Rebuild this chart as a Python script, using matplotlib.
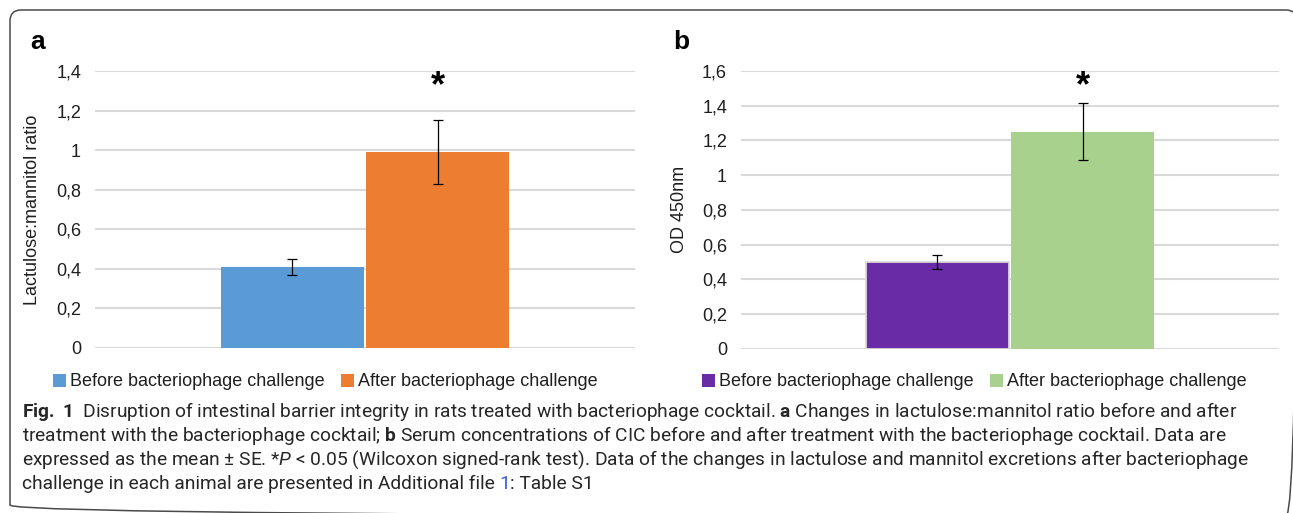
import matplotlib
matplotlib.use('Agg')
import matplotlib.pyplot as plt
from matplotlib import font_manager
from matplotlib.patches import FancyBboxPatch, Patch

# ---------------- data ----------------
categories = ['Before bacteriophage challenge', 'After bacteriophage challenge']
lm_ratio = [0.41, 0.99]
lm_se = [0.04, 0.163]
od450 = [0.50, 1.25]
od_se = [0.04, 0.163]
a_ticks = [0, 0.2, 0.4, 0.6, 0.8, 1.0, 1.2, 1.4]
a_ticklabels = ['0', '0,2', '0,4', '0,6', '0,8', '1', '1,2', '1,4']
b_ticks = [0, 0.2, 0.4, 0.6, 0.8, 1.0, 1.2, 1.4, 1.6]
b_ticklabels = ['0', '0,2', '0,4', '0,6', '0,8', '1', '1,2', '1,4', '1,6']
colors_a = ['#5B9BD5', '#ED7D31']
colors_b = ['#692CA6', '#A9D18E']
star_a = 1.275
star_b = 1.455

W, H = 1293, 513
plt.rcParams['font.family'] = ['Liberation Sans', 'DejaVu Sans']
available = {f.name for f in font_manager.fontManager.ttflist}
CAP_FAMILY = next((f for f in ['Roboto', 'Lato', 'DejaVu Sans'] if f in available), 'DejaVu Sans')
plt.rcParams['mathtext.fontset'] = 'custom'
plt.rcParams['mathtext.rm'] = CAP_FAMILY
plt.rcParams['mathtext.bf'] = CAP_FAMILY + ':bold'
plt.rcParams['mathtext.it'] = CAP_FAMILY + ':italic'

fig = plt.figure(figsize=(W / 100, H / 100), dpi=100)
fig.patch.set_facecolor('white')

def px_axes(x0, y0, x1, y1):
    return fig.add_axes([x0 / W, 1 - y1 / H, (x1 - x0) / W, (y1 - y0) / H])

TXT = '#1f1f1f'
FS = 13

def panel(ax, vals, errs, cols, ticks, tlabels, ylabel, star_y, lab_x, edges):
    xs = list(range(len(vals)))
    ax.bar(xs, vals, width=0.98, color=cols, edgecolor=edges, linewidth=1.3, zorder=2)
    ax.errorbar(xs, vals, yerr=errs, fmt='none', ecolor='black', elinewidth=0.9,
                capsize=3.4, capthick=0.9, zorder=3)
    ax.set_xlim(-1.35, 2.35)
    ax.set_ylim(ticks[0], ticks[-1])
    ax.set_yticks(ticks)
    ax.set_yticklabels(tlabels)
    ax.set_xticks([])
    ax.tick_params(axis='y', length=0, pad=10, labelsize=FS, labelcolor=TXT)
    for s in ax.spines.values():
        s.set_visible(False)
    ax.yaxis.grid(True, color='#D9D9D9', linewidth=1.5)
    ax.set_axisbelow(True)
    ax.set_ylabel(ylabel, fontsize=FS, color=TXT)
    ax.yaxis.set_label_coords(lab_x, 0.5)
    ax.text(xs[1], star_y, '*', ha='center', va='baseline', fontsize=26,
            fontweight='bold', color='black', zorder=4)
    ax.patch.set_alpha(0)

ax_a = px_axes(95, 71, 635, 348)
panel(ax_a, lm_ratio, lm_se, colors_a, a_ticks, a_ticklabels,
      'Lactulose:mannitol ratio', star_a, -0.100, ['none', 'none'])
ax_b = px_axes(741, 71, 1279, 348.7)
panel(ax_b, od450, od_se, colors_b, b_ticks, b_ticklabels,
      'OD 450nm', star_b, -0.0985, ['#D9D9D9', 'none'])

# legends
for ax, cols, lx in [(ax_a, colors_a, 53), (ax_b, colors_b, 702)]:
    handles = [Patch(facecolor=c, edgecolor='none') for c in cols]
    ax.legend(handles, categories, loc='center left',
              bbox_to_anchor=(lx / W, 1 - 382 / H), bbox_transform=fig.transFigure,
              ncol=2, frameon=False, fontsize=FS, handlelength=0.7, handleheight=0.7,
              handletextpad=0.25, columnspacing=0.9, borderpad=0, borderaxespad=0,
              labelcolor=TXT)

# panel letters
fig.text(30 / W, 1 - 49 / H, 'a', fontsize=19, fontweight='bold', ha='left', va='baseline')
fig.text(673 / W, 1 - 49 / H, 'b', fontsize=19, fontweight='bold', ha='left', va='baseline')

# overlay for frame & caption (pixel coordinates)
ov = fig.add_axes([0, 0, 1, 1], zorder=-1)
ov.set_xlim(0, W)
ov.set_ylim(H, 0)
ov.axis('off')
frame = FancyBboxPatch((10, 10), 1287, 506, boxstyle='round,pad=0,rounding_size=11',
                       facecolor='none', edgecolor='#4a4a4a', linewidth=1.1)
ov.add_patch(frame)

ov2 = fig.add_axes([0, 0, 1, 1], zorder=5)
ov2.set_xlim(0, W)
ov2.set_ylim(H, 0)
ov2.axis('off')

# caption: each line is a list of (text, colour) pieces; bold/italic via mathtext
CAP_COL = '#262626'
cap_lines = [
    [(r'$\mathbf{Fig.}$ $\mathbf{1}$  Disruption of intestinal barrier integrity in rats treated with bacteriophage cocktail. '
      r'$\mathbf{a}$ Changes in lactulose:mannitol ratio before and after', CAP_COL)],
    [(r'treatment with the bacteriophage cocktail; $\mathbf{b}$ Serum concentrations of CIC before and after '
      r'treatment with the bacteriophage cocktail. Data are', CAP_COL)],
    [(r'expressed as the mean $\pm$ SE. *$\mathit{P}$ < 0.05 (Wilcoxon signed-rank test). Data of the changes '
      r'in lactulose and mannitol excretions after bacteriophage', CAP_COL)],
    [('challenge in each animal are presented in Additional file ', CAP_COL), ('1', '#3b5bdb'), (': Table S1', CAP_COL)],
]
baselines = [417, 441, 465, 489]
renderer = fig.canvas.get_renderer()

def draw_line(pieces, yb, size, draw):
    x = 22
    for text, col in pieces:
        t = ov2.text(x, yb, text, fontsize=size, color=col, family=CAP_FAMILY,
                     ha='left', va='baseline')
        w = t.get_window_extent(renderer).width
        if not draw:
            t.remove()
        x += w
    return x - 22

base = 12.0
w0 = draw_line(cap_lines[0], baselines[0], base, False)
size = base * 1215 / w0
for pieces, yb in zip(cap_lines, baselines):
    draw_line(pieces, yb, size, True)

fig.savefig('out.png', dpi=100, facecolor='white')
